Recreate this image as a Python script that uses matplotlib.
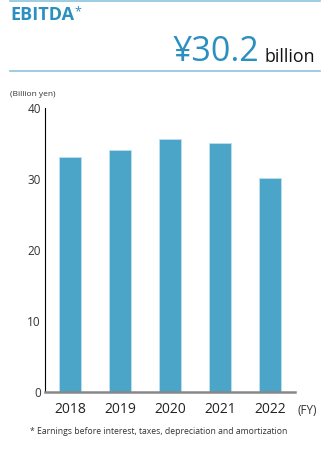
import matplotlib.pyplot as plt
from matplotlib.lines import Line2D

# Data
years = ['2018', '2019', '2020', '2021', '2022']
ebitda = [33.1, 34.1, 35.6, 35.0, 30.2]
yticks = [0, 10, 20, 30, 40]

blue = '#4ba5c9'
title_blue = '#2b8fbf'

fig = plt.figure(figsize=(3.3, 4.5), dpi=100)
plt.rcParams['font.family'] = ['Open Sans', 'DejaVu Sans']

# Axes: left 45px, right 295px, bottom y=392px, top y=108px
ax = fig.add_axes([45 / 330, 1 - 392 / 450, 250 / 330, 284 / 450])
x = range(len(years))
ax.bar(x, ebitda, width=0.43, color=blue, edgecolor='#bfe0ee', linewidth=0.6, zorder=2)

ax.set_xlim(-0.5, 4.5)
ax.set_ylim(0, 40)
ax.set_yticks(yticks)
ax.set_xticks(list(x))
ax.set_xticklabels(years, fontsize=10, color='#222222')
ax.tick_params(axis='y', length=0, labelsize=8.5, colors='#333333', pad=3)
ax.tick_params(axis='x', length=0, pad=7)
for s in ['top', 'right']:
    ax.spines[s].set_visible(False)
ax.spines['left'].set_color('black')
ax.spines['left'].set_linewidth(0.8)
ax.spines['bottom'].set_color('#888888')
ax.spines['bottom'].set_linewidth(1.8)

# Header lines
fig.add_artist(Line2D([10 / 330, 320 / 330], [1 - 1 / 450, 1 - 1 / 450], color='#8cc3dc', lw=1.2))
fig.add_artist(Line2D([10 / 330, 320 / 330], [1 - 71 / 450, 1 - 71 / 450], color='#8cc3dc', lw=1.2))

fig.text(10 / 330, 1 - 15 / 450, 'EBITDA', fontsize=13, fontweight='bold', color=title_blue, va='center')
fig.text(74 / 330, 1 - 12 / 450, '*', fontsize=9, color=title_blue, va='center')
fig.text(259 / 330, 1 - 52 / 450, '¥30.2', fontsize=24.5, color=title_blue, va='center', ha='right')
fig.text(265 / 330, 1 - 57 / 450, 'billion', fontsize=12.8, color='#111111', va='center')

fig.text(10 / 330, 1 - 94 / 450, '(Billion yen)', fontsize=6, color='#333333', va='center')
fig.text(297 / 330, 1 - 410 / 450, '(FY)', fontsize=8.5, color='#333333', va='center')
fig.text(30 / 330, 1 - 431 / 450, '* Earnings before interest, taxes, depreciation and amortization',
         fontsize=6.2, color='#333333', va='center')

plt.savefig('out.png', dpi=100)
